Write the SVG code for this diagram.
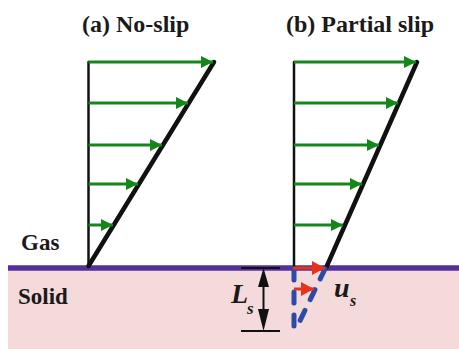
<svg xmlns="http://www.w3.org/2000/svg" width="459" height="349" viewBox="0 0 459 349">
<style>
.lbl{font-family:"Liberation Serif","Times New Roman",serif;font-weight:bold;fill:#1a1a1a}
.it{font-style:italic}
.prof{stroke:#111;fill:none;stroke-linecap:round}
.vel{stroke:#15861b;stroke-width:3;fill:none}
.slip{stroke:#e4321f;stroke-width:3;fill:none}
.ext{stroke:#2c4aa8;stroke-width:5;stroke-linecap:round;stroke-dasharray:11 12;fill:none}
.dim{stroke:#111;stroke-width:2;fill:none}
</style>
<defs>
<marker id="gh" markerUnits="userSpaceOnUse" markerWidth="14" markerHeight="14" refX="12" refY="6" orient="auto">
<path d="M0,0 L12,6 L0,12 Z" fill="#15861b"/>
</marker>
<marker id="rh" markerUnits="userSpaceOnUse" markerWidth="15" markerHeight="15" refX="13" refY="7" orient="auto">
<path d="M0,0 L13,7 L0,14 Z" fill="#e4321f"/>
</marker>
</defs>
<rect id="solid" x="8" y="268" width="451" height="81" fill="#f4dada"/>
<line id="wall" x1="8" y1="268" x2="459" y2="268" stroke="#55309c" stroke-width="5.5"/>
<g id="labels">
<text class="lbl" x="82" y="32" font-size="24">(a) No-slip</text>
<text class="lbl" x="286" y="32" font-size="24">(b) Partial slip</text>
<text class="lbl" x="21" y="250" font-size="23">Gas</text>
<text class="lbl" x="18" y="304" font-size="23">Solid</text>
</g>
<g id="panel-a">
<line class="prof" x1="88.5" y1="62" x2="88.5" y2="266" stroke-width="2.5"/>
<line class="prof" x1="88.5" y1="266" x2="214" y2="62" stroke-width="4.5"/>
<g id="arrows-a">
<line class="vel" x1="88.5" y1="62" x2="213" y2="62" stroke-width="2" marker-end="url(#gh)"/>
<line class="vel" x1="88.5" y1="103" x2="188" y2="103" marker-end="url(#gh)"/>
<line class="vel" x1="88.5" y1="145" x2="162" y2="145" marker-end="url(#gh)"/>
<line class="vel" x1="88.5" y1="184" x2="138" y2="184" marker-end="url(#gh)"/>
<line class="vel" x1="88.5" y1="225" x2="113" y2="225" marker-end="url(#gh)"/>
</g>
</g>
<g id="panel-b">
<line class="prof" x1="294" y1="62" x2="294" y2="267" stroke-width="2.5"/>
<line class="prof" x1="326" y1="268" x2="417" y2="62" stroke-width="4.5"/>
<g id="arrows-b">
<line class="vel" x1="294" y1="62" x2="416" y2="62" stroke-width="2" marker-end="url(#gh)"/>
<line class="vel" x1="294" y1="103" x2="398" y2="103" marker-end="url(#gh)"/>
<line class="vel" x1="294" y1="145" x2="379" y2="145" marker-end="url(#gh)"/>
<line class="vel" x1="294" y1="184" x2="362" y2="184" marker-end="url(#gh)"/>
<line class="vel" x1="294" y1="225" x2="343" y2="225" marker-end="url(#gh)"/>
</g>
</g>
<g id="slip-detail">
<line class="ext" x1="294" y1="269" x2="294" y2="331"/>
<line class="ext" x1="325" y1="269" x2="295" y2="331"/>
<line class="slip" x1="293" y1="268" x2="325" y2="268" marker-end="url(#rh)"/>
<line class="slip" x1="294" y1="289" x2="314" y2="289" marker-end="url(#rh)"/>
<text class="lbl it" x="334" y="297" font-size="28">u</text>
<text class="lbl it" x="350" y="306" font-size="16">s</text>
</g>
<g id="slip-length">
<line class="dim" x1="241" y1="268" x2="280" y2="268"/>
<line class="dim" x1="241" y1="331" x2="280" y2="331"/>
<line class="dim" x1="263.5" y1="285" x2="263.5" y2="312"/>
<path d="M263.5,268 L269,287 L258,287 Z" fill="#111"/>
<path d="M263.5,331 L269,309 L258,309 Z" fill="#111"/>
<text class="lbl it" x="231" y="303" font-size="28">L</text>
<text class="lbl it" x="247" y="314" font-size="17">s</text>
</g>
</svg>
